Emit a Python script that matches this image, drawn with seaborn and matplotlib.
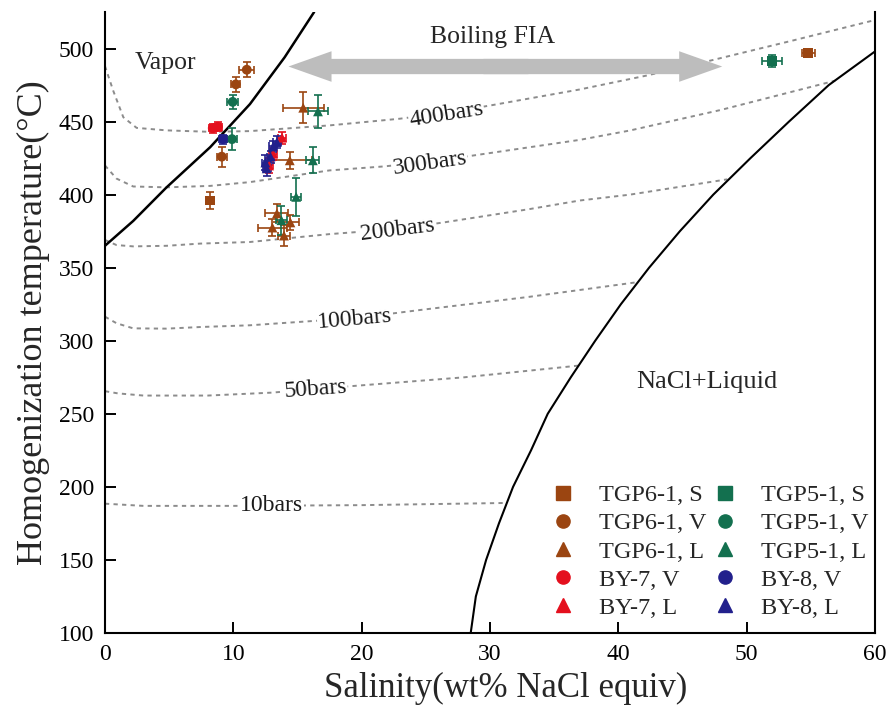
import matplotlib
matplotlib.use("Agg")
import matplotlib.pyplot as plt
import numpy as np
import pandas as pd
import seaborn as sns
from matplotlib.lines import Line2D
from matplotlib.patches import FancyArrowPatch

# ---------------- fluid inclusion data (salinity wt%, Th degC, errors) ----------------
tgp6_s_x = [8.2, 54.8]
tgp6_s_t = [396, 497]
tgp6_s_dx = [0.3, 0.5]
tgp6_s_dt = [6, 2]

tgp6_v_x = [11.05, 10.2, 9.1]
tgp6_v_t = [485.5, 475.5, 426]
tgp6_v_dx = [0.6, 0.35, 0.4]
tgp6_v_dt = [5, 5.3, 6.8]

tgp6_l_x = [15.45, 14.4, 13.4, 14.45, 13.05, 13.95]
tgp6_l_t = [459.5, 423.5, 387.2, 381, 377.5, 372]
tgp6_l_dx = [1.6, 1.7, 0.9, 0.7, 1.1, 0.45]
tgp6_l_dt = [10.5, 6, 6.2, 5, 6, 7.4]

tgp5_s_x = [51.96]
tgp5_s_t = [491.5]
tgp5_s_dx = [0.8]
tgp5_s_dt = [3.8]

tgp5_v_x = [9.95, 9.9]
tgp5_v_t = [463.5, 438]
tgp5_v_dx = [0.45, 0.4]
tgp5_v_dt = [5, 7.5]

tgp5_l_x = [16.6, 16.2, 14.9, 13.75]
tgp5_l_t = [457, 423.5, 398.5, 382.5]
tgp5_l_dx = [0.8, 0.5, 0.4, 0.45]
tgp5_l_dt = [11.4, 9, 13, 10]

by7_v_x = [8.4, 8.8]
by7_v_t = [445.5, 446.5]
by7_v_dx = [0.3, 0.3]
by7_v_dt = [3, 3]

by7_l_x = [13.8, 13.1, 12.8]
by7_l_t = [439, 428, 420]
by7_l_dx = [0.3, 0.3, 0.3]
by7_l_dt = [4, 4, 5]

by8_v_x = [9.2]
by8_v_t = [438]
by8_v_dx = [0.3]
by8_v_dt = [3]

by8_l_x = [13.4, 13.1, 12.9, 12.5, 12.6]
by8_l_t = [436, 433, 426, 422, 418]
by8_l_dx = [0.3, 0.3, 0.3, 0.3, 0.3]
by8_l_dt = [4, 4, 4, 5, 5]

# ---------------- phase boundaries ----------------
vapor_x = [0, 2.2, 4.8, 8.2, 11.3, 14.0, 16.3]
vapor_t = [365, 382, 405, 432.5, 462, 494, 525]

halite_x = [28.5, 28.9, 29.7, 30.7, 31.8, 33.2, 34.5, 36.3, 38.2, 40.2,
            42.4, 44.8, 47.4, 50.3, 53.3, 56.4, 60.0]
halite_t = [100, 125, 150, 175, 200, 225, 250, 275, 300, 325,
            350, 375, 400, 425, 450, 475, 498]

# ---------------- isobars ----------------
iso10_x = [0, 3, 10, 20, 31.3]
iso10_t = [188.5, 187, 187, 187.5, 189]
iso50_x = [0, 1, 3, 8, 13, 16.4, 20, 28, 36.9]
iso50_t = [265.5, 264, 262.5, 262.5, 264.5, 267, 269.5, 275, 283]
iso100_x = [0, 0.9, 2.2, 4.8, 7.4, 11.3, 19.5, 24.5, 33, 41.4]
iso100_t = [316.5, 312, 308.5, 308.3, 309.4, 310.6, 315.5, 321, 330, 340]
iso200_x = [0, 0.9, 2.2, 4.8, 7.4, 11.3, 17.5, 22.8, 26.4, 33, 37, 40.9, 48.5]
iso200_t = [369, 365.5, 364.6, 365, 366.5, 367.6, 373, 376.5, 381, 390, 396, 400, 410.5]
iso300_x = [0, 0.9, 2.2, 4.8, 8.2, 11.3, 17.5, 21.7, 25.3, 28.7, 37, 40.9, 48, 56.9]
iso300_t = [420, 411, 405.6, 405, 406, 408.6, 416.6, 419.3, 422.5, 426.8, 437.5, 443.9, 458, 478]
iso400_x = [0, 0.65, 1.43, 2.47, 4.8, 8.2, 11.3, 17.5, 23, 26.6, 30, 37, 42.2, 47.2, 53.6, 60]
iso400_t = [488, 471, 453, 445.7, 444, 443, 443.5, 447.4, 452, 456, 461, 472, 481.5, 491.8, 505.5, 519.5]

iso_labels = ["10bars", "50bars", "100bars", "200bars", "300bars", "400bars"]
iso_label_x = [13.0, 16.4, 19.5, 22.8, 25.3, 26.6]
iso_label_t = [187, 267, 314.5, 375.8, 421.5, 455]
iso_label_rot = [0, 4, 5, 7, 8, 9]

# ---------------- styling ----------------
series_names = ["TGP6-1, S", "TGP6-1, V", "TGP6-1, L", "BY-7, V", "BY-7, L",
                "TGP5-1, S", "TGP5-1, V", "TGP5-1, L", "BY-8, V", "BY-8, L"]
brown, green, red, blue = "#9B4511", "#13704F", "#E4101E", "#22208C"
palette = {"TGP6-1, S": brown, "TGP6-1, V": brown, "TGP6-1, L": brown,
           "BY-7, V": red, "BY-7, L": red,
           "TGP5-1, S": green, "TGP5-1, V": green, "TGP5-1, L": green,
           "BY-8, V": blue, "BY-8, L": blue}
markers = {"TGP6-1, S": "s", "TGP6-1, V": "o", "TGP6-1, L": "^",
           "BY-7, V": "o", "BY-7, L": "^",
           "TGP5-1, S": "s", "TGP5-1, V": "o", "TGP5-1, L": "^",
           "BY-8, V": "o", "BY-8, L": "^"}

groups = {
    "TGP6-1, S": (tgp6_s_x, tgp6_s_t, tgp6_s_dx, tgp6_s_dt),
    "TGP6-1, V": (tgp6_v_x, tgp6_v_t, tgp6_v_dx, tgp6_v_dt),
    "TGP6-1, L": (tgp6_l_x, tgp6_l_t, tgp6_l_dx, tgp6_l_dt),
    "TGP5-1, S": (tgp5_s_x, tgp5_s_t, tgp5_s_dx, tgp5_s_dt),
    "TGP5-1, V": (tgp5_v_x, tgp5_v_t, tgp5_v_dx, tgp5_v_dt),
    "TGP5-1, L": (tgp5_l_x, tgp5_l_t, tgp5_l_dx, tgp5_l_dt),
    "BY-7, V": (by7_v_x, by7_v_t, by7_v_dx, by7_v_dt),
    "BY-7, L": (by7_l_x, by7_l_t, by7_l_dx, by7_l_dt),
    "BY-8, V": (by8_v_x, by8_v_t, by8_v_dx, by8_v_dt),
    "BY-8, L": (by8_l_x, by8_l_t, by8_l_dx, by8_l_dt),
}
rows = []
for name, (xs, ts, dxs, dts) in groups.items():
    for x, t, dx, dt in zip(xs, ts, dxs, dts):
        rows.append({"series": name, "salinity": x, "th": t, "dx": dx, "dt": dt})
df = pd.DataFrame(rows)

sns.set_theme(style="white")
plt.rcParams["font.family"] = ["Liberation Serif", "DejaVu Serif"]

fig, ax = plt.subplots(figsize=(8.94, 7.24), dpi=100)
fig.subplots_adjust(left=0.1174, right=0.9787, bottom=0.1257, top=0.9834)

iso_color = "#8c8c8c"
for xs, ts in [(iso10_x, iso10_t), (iso50_x, iso50_t), (iso100_x, iso100_t),
               (iso200_x, iso200_t), (iso300_x, iso300_t), (iso400_x, iso400_t)]:
    sns.lineplot(x=xs, y=ts, ax=ax, sort=False, estimator=None, color=iso_color,
                 lw=1.4, linestyle=(0, (2.2, 2.2)), zorder=1)

for lab, lx, lt, rot in zip(iso_labels, iso_label_x, iso_label_t, iso_label_rot):
    ax.text(lx, lt, lab, rotation=rot, rotation_mode="anchor", ha="center", va="center",
            fontsize=17, color="#1a1a1a", zorder=3,
            bbox=dict(fc="white", ec="none", pad=0.5))

sns.lineplot(x=vapor_x, y=vapor_t, ax=ax, sort=False, estimator=None, color="black", lw=1.8, zorder=2)
sns.lineplot(x=halite_x, y=halite_t, ax=ax, sort=False, estimator=None, color="black", lw=1.5, zorder=2)

# boiling FIA double arrow, two overlapping halves
for start, end in [((33.0, 487.7), (14.3, 487.7)), ((29.5, 487.7), (48.1, 487.7))]:
    arr = FancyArrowPatch(start, end, arrowstyle="simple,head_length=3.1,head_width=2.2,tail_width=1.1",
                          mutation_scale=10, color="#bdbdbd", lw=0, shrinkA=0, shrinkB=0, zorder=2)
    ax.add_patch(arr)

# error bars then markers
for name in series_names:
    sub = df[df["series"] == name]
    ax.errorbar(sub["salinity"], sub["th"], xerr=sub["dx"], yerr=sub["dt"], fmt="none",
                ecolor=palette[name], elinewidth=1.2, capsize=3, capthick=1.2, zorder=4)
sns.scatterplot(data=df, x="salinity", y="th", hue="series", style="series",
                palette=palette, markers=markers, s=50, linewidth=0, legend=False, ax=ax, zorder=5)

ax.text(2.3, 490, "Vapor", fontsize=18.5, ha="left", va="center")
ax.text(30.2, 508, "Boiling FIA", fontsize=18.5, ha="center", va="center")
ax.text(46.9, 272, "NaCl+Liquid", fontsize=19, ha="center", va="center")

ax.set_xlim(0, 60)
ax.set_ylim(100, 525)
ax.set_xticks(np.arange(0, 61, 10))
ax.set_yticks(np.arange(100, 501, 50))
ax.tick_params(axis="both", direction="in", length=8, width=1.4, labelsize=17, pad=8,
               bottom=True, left=True, top=False, right=False, color="black", labelcolor="black")
for side in ["left", "bottom", "right"]:
    ax.spines[side].set_visible(True)
    ax.spines[side].set_color("black")
    ax.spines[side].set_linewidth(1.5)
ax.spines["top"].set_visible(False)
ax.grid(False)

ax.set_xlabel("Salinity(wt% NaCl equiv)", fontsize=25, labelpad=8)
ax.xaxis.set_label_coords(0.52, -0.063)
ax.set_ylabel("Homogenization temperature(\u00b0C)", fontsize=26, labelpad=6)

handles = [Line2D([], [], marker=markers[n], color=palette[n], linestyle="none", markersize=9.5)
           for n in series_names]
ax.legend(handles, series_names, ncol=2, loc="upper left", bbox_to_anchor=(0.567, 0.255),
          frameon=False, fontsize=17.5, handletextpad=0.95, columnspacing=0.3,
          labelspacing=0.25, handlelength=1.0, borderaxespad=0)

fig.savefig("out.png", dpi=100)
